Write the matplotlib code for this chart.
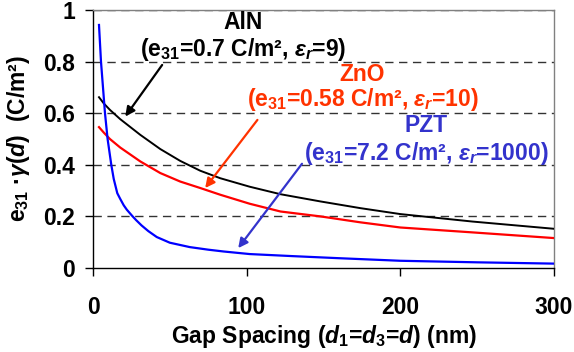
import matplotlib
matplotlib.use('Agg')
import matplotlib.pyplot as plt

plt.rcParams['font.family'] = ['Liberation Sans', 'DejaVu Sans']
plt.rcParams['font.weight'] = 'bold'
plt.rcParams['mathtext.fontset'] = 'custom'
plt.rcParams['mathtext.rm'] = 'Liberation Sans:bold'
plt.rcParams['mathtext.it'] = 'Liberation Sans:bold:italic'
plt.rcParams['mathtext.bf'] = 'Liberation Sans:bold'

# gap spacing (nm) and e31*gamma(d) (C/m^2)
d_aln = [3.9, 7, 11, 17.7, 30.8, 43.8, 56.8, 69.8, 82.8, 102, 122, 148, 174, 200, 247, 300]
y_aln = [0.662, 0.638, 0.613, 0.577, 0.516, 0.461, 0.415, 0.377, 0.348, 0.315,
         0.286, 0.258, 0.232, 0.209, 0.180, 0.152]

d_zno = [3.9, 7, 11, 17.7, 30.8, 43.8, 56.8, 69.8, 82.8, 102, 122, 148, 174, 200, 247, 300]
y_zno = [0.546, 0.525, 0.500, 0.467, 0.413, 0.368, 0.335, 0.310, 0.284, 0.249,
         0.219, 0.200, 0.177, 0.157, 0.138, 0.116]

d_pzt = [3.9, 5.2, 6.5, 7.8, 9.5, 11.9, 13.5, 15.8, 17.7, 20, 22, 25.5, 28, 31.6,
         36, 41.5, 50, 63, 75, 85, 102, 130, 160, 200, 250, 300]
y_pzt = [0.942, 0.80, 0.70, 0.60, 0.50, 0.40, 0.345, 0.29, 0.268, 0.243, 0.226,
         0.202, 0.186, 0.165, 0.143, 0.120, 0.098, 0.081, 0.071, 0.064, 0.054,
         0.046, 0.038, 0.028, 0.022, 0.017]

x_ticks = [0, 100, 200, 300]
y_ticks = [0, 0.2, 0.4, 0.6, 0.8, 1]
y_tick_labels = ['0', '0.2', '0.4', '0.6', '0.8', '1']

RED_TXT = '#ff3300'
BLUE_TXT = '#3333cc'
FS = 16.5

fig = plt.figure(figsize=(5.74, 3.52), dpi=100, facecolor='white')
ax = fig.add_axes([93 / 574, (352 - 268) / 352, (554 - 93) / 574, (268 - 10) / 352])

for yv in y_ticks[1:]:
    ax.axhline(yv, color='#333333', lw=1.0, ls=(0, (6, 4)), zorder=1)

ax.plot(d_aln, y_aln, color='black', lw=1.4, zorder=3)
ax.plot(d_zno, y_zno, color='#ff0000', lw=1.6, zorder=3)
ax.plot(d_pzt, y_pzt, color='#0000ff', lw=1.6, zorder=3)

ax.set_xlim(0, 300)
ax.set_ylim(0, 1)
ax.set_xticks(x_ticks)
ax.set_xticklabels([str(v) for v in x_ticks])
ax.set_yticks(y_ticks)
ax.set_yticklabels(y_tick_labels)
ax.tick_params(axis='x', direction='out', length=6, width=1, pad=14, labelsize=FS)
ax.tick_params(axis='y', direction='out', length=6, width=1, pad=7, labelsize=FS)

for s in ['left', 'bottom']:
    ax.spines[s].set_color('black')
    ax.spines[s].set_linewidth(1.0)
for s in ['top', 'right']:
    ax.spines[s].set_color('#808080')
    ax.spines[s].set_linewidth(1.0)

ax.set_xlabel(r'Gap Spacing ($\mathit{d}_{\mathit{1}}$=$\mathit{d}_{\mathit{3}}$=$\mathit{d}$) (nm)',
              fontsize=FS, fontweight='bold', labelpad=3)
ax.set_ylabel(r'$\mathrm{e}_{\mathit{31}}$ ·$\mathit{γ(d)}$  (C/m²)',
              fontsize=FS, fontweight='bold', labelpad=8)

# annotations
ax.text(97.7, 0.925, 'AlN', color='black', fontsize=FS, fontweight='bold',
        ha='center', va='baseline')
ax.text(97.7, 0.822, r'($\mathrm{e}_{\mathit{31}}$=0.7 C/m², $\mathit{ε}_{\mathit{r}}$=9)',
        color='black', fontsize=FS, fontweight='bold', ha='center', va='baseline')
ax.annotate('', xy=(21, 0.587), xytext=(45, 0.787),
            arrowprops=dict(arrowstyle='-|>', color='black', lw=1.6,
                            mutation_scale=14, shrinkA=0, shrinkB=0))

ax.text(175.4, 0.726, 'ZnO', color=RED_TXT, fontsize=FS, fontweight='bold',
        ha='center', va='baseline')
ax.text(175.4, 0.626, r'($\mathrm{e}_{\mathit{31}}$=0.58 C/m², $\mathit{ε}_{\mathit{r}}$=10)',
        color=RED_TXT, fontsize=FS, fontweight='bold', ha='center', va='baseline')
ax.annotate('', xy=(73, 0.310), xytext=(107, 0.574),
            arrowprops=dict(arrowstyle='-|>', color=RED_TXT, lw=1.6,
                            mutation_scale=14, shrinkA=0, shrinkB=0))

ax.text(216.7, 0.529, 'PZT', color=BLUE_TXT, fontsize=FS, fontweight='bold',
        ha='center', va='baseline')
ax.text(216.7, 0.419, r'($\mathrm{e}_{\mathit{31}}$=7.2 C/m², $\mathit{ε}_{\mathit{r}}$=1000)',
        color=BLUE_TXT, fontsize=FS, fontweight='bold', ha='center', va='baseline')
ax.annotate('', xy=(94.5, 0.077), xytext=(136, 0.404),
            arrowprops=dict(arrowstyle='-|>', color=BLUE_TXT, lw=1.6,
                            mutation_scale=14, shrinkA=0, shrinkB=0))

fig.savefig('out.png', dpi=100, facecolor='white')
